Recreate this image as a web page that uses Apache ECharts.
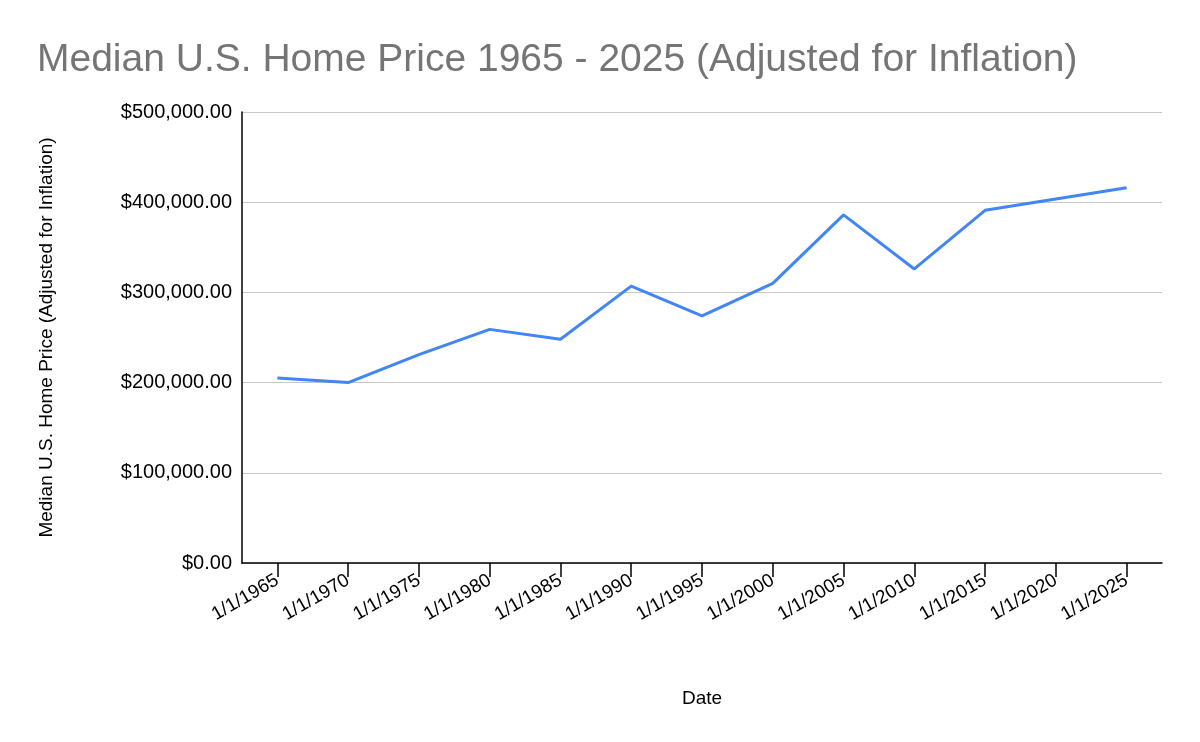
<!DOCTYPE html>
<html><head><meta charset="utf-8">
<script src="https://cdn.jsdelivr.net/npm/echarts@6/dist/echarts.min.js"></script>
<style>html,body{margin:0;padding:0;background:#fff}#c{width:1200px;height:742px}</style>
</head><body><div id="c"></div>
<script>
const categories = ['1/1/1965','1/1/1970','1/1/1975','1/1/1980','1/1/1985','1/1/1990','1/1/1995','1/1/2000','1/1/2005','1/1/2010','1/1/2015','1/1/2020','1/1/2025'];
const prices = [205000,200000,231000,259000,248000,307000,274000,310000,386000,326000,391000,403500,416000];
const chart = echarts.init(document.getElementById('c'));
chart.setOption({
  animation:false,
  title:{text:'Median U.S. Home Price 1965 - 2025 (Adjusted for Inflation)',left:32,top:36,
    textStyle:{fontFamily:'Liberation Sans, Arial',fontSize:39,fontWeight:'normal',color:'#757575'}},
  grid:{left:242,right:38,top:112,bottom:179},
  xAxis:{type:'category',data:categories,boundaryGap:true,name:'Date',nameLocation:'middle',nameGap:126,
    nameTextStyle:{fontFamily:'Liberation Sans, Arial',fontSize:19,color:'#000'},
    axisLine:{lineStyle:{color:'#000',width:1.5}},
    axisTick:{show:true,alignWithLabel:true,length:14,lineStyle:{color:'#000',width:1.5}},
    axisLabel:{rotate:30,fontFamily:'Liberation Sans, Arial',fontSize:19,color:'#000',margin:16}},
  yAxis:{type:'value',min:0,max:500000,interval:100000,name:'Median U.S. Home Price (Adjusted for Inflation)',
    nameLocation:'middle',nameGap:186,
    nameTextStyle:{fontFamily:'Liberation Sans, Arial',fontSize:19,color:'#000'},
    axisLine:{show:true,lineStyle:{color:'#000',width:1.5}},
    splitLine:{lineStyle:{color:'#c8c8c8',width:1.2}},
    axisLabel:{fontFamily:'Liberation Sans, Arial',fontSize:20,color:'#000',margin:10,
      formatter:v=>'$'+v.toLocaleString('en-US',{minimumFractionDigits:2,maximumFractionDigits:2})}},
  series:[{type:'line',data:prices,showSymbol:false,lineStyle:{color:'#4285f4',width:3},itemStyle:{color:'#4285f4'}}]
});
</script></body></html>
